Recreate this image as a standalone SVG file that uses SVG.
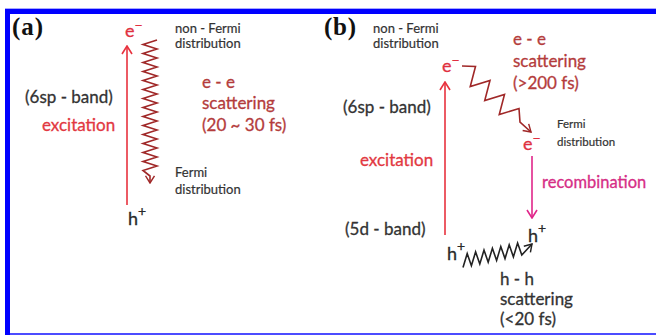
<svg xmlns="http://www.w3.org/2000/svg" width="656" height="335" viewBox="0 0 656 335">
<style>
text{font-family:Lato,"Open Sans","Liberation Sans",sans-serif;stroke-width:0.3;}
.pl{font-family:"Liberation Serif","Times New Roman",serif;font-weight:bold;font-size:25px;fill:#111;stroke:none;}
.lb{font-size:17px;fill:#333;stroke:#333;}
.sm{font-size:13px;fill:#333;stroke:#333;stroke-width:0.2;}
.xs{font-size:11.5px;fill:#333;stroke:#333;stroke-width:0.2;}
.rd{font-size:17px;fill:#e23842;stroke:#e23842;}
.dr{font-size:17px;fill:#b43c3c;stroke:#b43c3c;}
.mg{font-size:16.5px;fill:#d62e86;stroke:#d62e86;}
.car{font-size:18px;}
.cr{fill:#e03040;stroke:#e03040;}
.ck{fill:#2a2a2a;stroke:#2a2a2a;}
.sup{font-size:14px;}
.ln{fill:none;stroke-width:1.6;}
.zz{fill:none;stroke-width:1.6;stroke-linejoin:miter;}
</style>
<defs>
<marker id="mr" viewBox="0 0 10 12" refX="9" refY="6" markerWidth="10" markerHeight="12" markerUnits="userSpaceOnUse" orient="auto"><path d="M1,1 L9,6 L1,11" fill="none" stroke="#e8323e" stroke-width="1.6"/></marker>
<marker id="mz" viewBox="0 0 10 12" refX="9" refY="6" markerWidth="9" markerHeight="11" markerUnits="userSpaceOnUse" orient="auto"><path d="M1,1 L9,6 L1,11" fill="none" stroke="#a02828" stroke-width="1.6"/></marker>
<marker id="mm" viewBox="0 0 10 12" refX="9" refY="6" markerWidth="10" markerHeight="12" markerUnits="userSpaceOnUse" orient="auto"><path d="M1,1 L9,6 L1,11" fill="none" stroke="#e0268a" stroke-width="1.6"/></marker>
<marker id="mk" viewBox="0 0 10 12" refX="9" refY="6" markerWidth="9" markerHeight="11" markerUnits="userSpaceOnUse" orient="auto"><path d="M1,1 L9,6 L1,11" fill="none" stroke="#222" stroke-width="1.6"/></marker>
</defs>
<rect x="0" y="0" width="656" height="335" fill="#fff"/>
<g id="frame">
<rect x="5" y="8" width="651" height="1" fill="#a8a8ff"/>
<rect x="5" y="9" width="651" height="5" fill="#0000ff"/>
<rect x="5" y="9" width="5" height="326" fill="#0000ff"/>
<rect x="5" y="333.3" width="651" height="1.4" fill="#0000ff"/>
</g>
<g id="connectors">
<line class="ln" x1="127" y1="205" x2="127" y2="46" stroke="#e8323e" marker-end="url(#mr)"/>
<polyline class="zz" stroke="#a02828" marker-end="url(#mz)" points="157,40 143,44.5 157,49 143,53.5 157,58 143,62.5 157,67 143,71.5 157,76 143,80.5 157,85 143,89.5 157,94 143,98.5 157,103 143,107.5 157,112 143,116.5 157,121 143,125.5 157,130 143,134.5 157,139 143,143.5 157,148 143,152.5 157,157 143,161.5 157,166 143,170.5 150,176 150,183"/>
<line class="ln" x1="445" y1="235" x2="445" y2="82" stroke="#e8323e" marker-end="url(#mr)"/>
<polyline class="zz" stroke="#a02828" marker-end="url(#mz)" points="462,66 475.5,66.5 470.25,86.5 490,80.5 484.75,100.5 504.5,94.5 499.25,114.5 519,108.5 520,122 531,132"/>
<line class="ln" x1="532" y1="156" x2="532" y2="218" stroke="#e0268a" marker-end="url(#mm)"/>
<polyline class="zz" stroke="#222" marker-end="url(#mk)" points="463,267.5 467.2,253.6 471.4,265.7 475.6,251.9 479.8,264 484,250.1 488.2,262.2 492.4,248.3 496.6,260.4 500.8,246.5 505,258.6 509.2,244.8 513.4,256.9 517.6,243 521.8,255 532,244"/>
</g>
<g id="panel-a-label"><text class="pl" x="12" y="35" textLength="31">(a)</text></g>
<g id="a-electron"><text class="car cr" x="125" y="37">e<tspan class="sup" dy="-7">−</tspan></text></g>
<g id="a-nonfermi"><text class="sm" x="175" y="33">non - Fermi</text><text class="sm" x="175" y="48">distribution</text></g>
<g id="a-band"><text class="lb" x="25" y="103">(6sp - band)</text></g>
<g id="a-excitation"><text class="rd" x="42" y="131">excitation</text></g>
<g id="a-ee"><text class="dr" x="202" y="88">e - e</text><text class="dr" x="202" y="109">scattering</text><text class="dr" x="202" y="131">(20 ~ 30 fs)</text></g>
<g id="a-fermi"><text class="sm" x="175" y="177">Fermi</text><text class="sm" x="175" y="194">distribution</text></g>
<g id="a-hole"><text class="car ck" x="128" y="225">h<tspan class="sup" dy="-9">+</tspan></text></g>
<g id="panel-b-label"><text class="pl" x="324" y="35" textLength="32">(b)</text></g>
<g id="b-nonfermi"><text class="sm" x="373" y="33">non - Fermi</text><text class="sm" x="373" y="48">distribution</text></g>
<g id="b-electron-top"><text class="car cr" x="442" y="72">e<tspan class="sup" dy="-7">−</tspan></text></g>
<g id="b-ee"><text class="dr" x="513" y="45">e - e</text><text class="dr" x="513" y="67">scattering</text><text class="dr" x="513" y="89">(&gt;200 fs)</text></g>
<g id="b-band6sp"><text class="lb" x="343" y="113">(6sp - band)</text></g>
<g id="b-excitation"><text class="rd" x="360" y="166">excitation</text></g>
<g id="b-fermi"><text class="xs" x="557" y="128">Fermi</text><text class="xs" x="557" y="146">distribution</text></g>
<g id="b-electron-low"><text class="car cr" x="523" y="150">e<tspan class="sup" dy="-7">−</tspan></text></g>
<g id="b-recombination"><text class="mg" x="542" y="188">recombination</text></g>
<g id="b-band5d"><text class="lb" x="345" y="235">(5d - band)</text></g>
<g id="b-hole-left"><text class="car ck" x="447" y="260">h<tspan class="sup" dy="-9">+</tspan></text></g>
<g id="b-hole-right"><text class="car ck" x="528" y="242">h<tspan class="sup" dy="-9">+</tspan></text></g>
<g id="b-hh"><text class="lb" x="500" y="285">h - h</text><text class="lb" x="500" y="305">scattering</text><text class="lb" x="500" y="325">(&lt;20 fs)</text></g>
</svg>
